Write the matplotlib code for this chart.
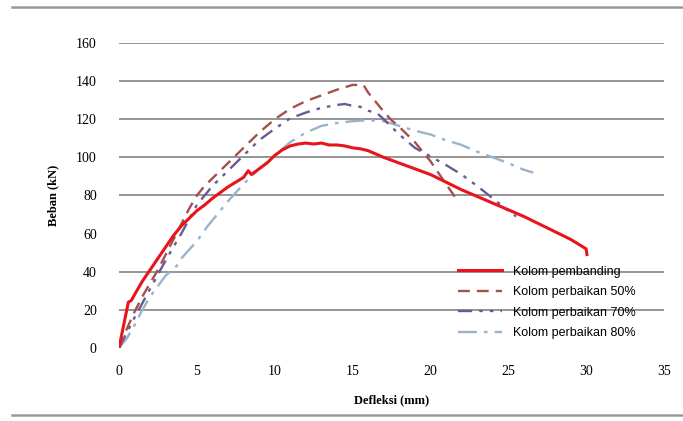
import matplotlib
matplotlib.use('Agg')  # no display
import matplotlib.pyplot as plt
from matplotlib.lines import Line2D

# Load-deflection data
x_ref = [0, 0.2, 0.4, 0.6, 0.8, 1.0, 1.5, 2, 2.5, 3, 3.5, 4, 4.5, 5, 5.5, 6, 6.5, 7, 7.5, 8,
         8.3, 8.5, 9, 9.5, 10, 10.5, 11, 11.5, 12, 12.5, 13, 13.5, 14, 14.5, 15, 15.5, 16,
         17, 18, 19, 20, 21, 22, 23, 24, 25, 26, 27, 28, 29, 30, 30.05]
y_ref = [0, 8, 16, 24, 25, 28, 35, 41, 47, 53, 59, 64, 68, 72, 75, 78.5, 81.5, 84.5, 87, 89.5,
         93, 91, 94, 97, 101, 104, 106, 107, 107.5, 107, 107.5, 106.5, 106.5, 106, 105, 104.5, 103.5,
         100, 97, 94, 91, 87, 83, 79.5, 76, 72.5, 69, 65, 61, 57, 52, 49]

x_50 = [0, 0.5, 1, 1.5, 2, 2.5, 3, 3.5, 4, 4.5, 5, 5.5, 6, 6.5, 7, 7.5, 8, 9, 10, 11, 12, 13,
        14, 15, 15.7, 16, 16.5, 17, 17.5, 18, 18.5, 19, 19.5, 20, 20.5, 21, 21.6]
y_50 = [0, 10, 19, 27, 34, 41, 49, 57, 65, 73, 80, 85, 89, 93, 97, 101, 105, 113, 120, 125.5,
        129.5, 132.5, 135.5, 138, 138, 134, 129, 124, 119.5, 116, 112, 108, 103, 98, 92, 86, 79]

x_70 = [0, 0.5, 1, 2, 3, 4, 5, 6, 7, 8, 9, 10, 11, 12, 13, 14, 14.5, 15, 15.5, 16, 16.6,
        17, 18, 19, 20, 21, 22, 23, 24, 25, 25.5]
y_70 = [0, 8, 16, 31, 46, 60, 75, 85, 93, 101, 109, 115, 120.5, 123.5, 126, 127.5, 128, 127,
        126.5, 124.5, 123, 120, 112, 105, 100.5, 96, 91, 85, 78.5, 72, 69]

x_80 = [0, 0.5, 1, 1.5, 2, 3, 3.7, 4, 5, 5.7, 6.5, 7, 8, 9, 10, 11, 12, 13, 14, 15, 16, 17,
        18, 19, 20, 21, 22, 23, 24, 25, 26, 26.6]
y_80 = [0, 5, 12, 20, 27, 38, 43, 47, 56, 64, 72, 77, 86, 94, 101, 108, 113, 116.5, 118, 119,
        119.5, 119, 116.5, 114, 112, 109, 106.5, 103, 100, 97, 93.5, 92]

labels = ['Kolom pembanding', 'Kolom perbaikan 50%', 'Kolom perbaikan 70%', 'Kolom perbaikan 80%']
x_ticks = [0, 5, 10, 15, 20, 25, 30, 35]
y_ticks = [0, 20, 40, 60, 80, 100, 120, 140, 160]
grid_levels = [20, 40, 80, 100, 120, 140, 160]  # the 60 line is not visible in the reference

fig = plt.figure(figsize=(6.83, 4.21), dpi=100)
ax = fig.add_axes([0.1742, 0.1734, 0.798, 0.7245])

for g in grid_levels:
    ax.axhline(g, color='#8c8c8c', lw=1.3, zorder=0)

ax.plot(x_ref, y_ref, color='#e8141c', lw=2.2, label=labels[0], zorder=5)
ax.plot(x_50, y_50, color='#a5504c', lw=1.7, ls=(0, (5, 3)), label=labels[1], zorder=4)
ax.plot(x_70, y_70, color='#6a5a94', lw=1.7, ls=(0, (6, 3, 1.5, 3, 1.5, 3)), label=labels[2], zorder=3)
ax.plot(x_80, y_80, color='#98b4cc', lw=1.7, ls=(0, (8, 3, 1.5, 3)), label=labels[3], zorder=2)

ax.set_xlim(0, 35)
ax.set_ylim(0, 160)
ax.set_xticks(x_ticks)
ax.set_yticks(y_ticks)
ax.tick_params(length=0, labelsize=10, pad=12)
ax.tick_params(axis='y', pad=16)
for t in ax.get_xticklabels() + ax.get_yticklabels():
    t.set_family('Liberation Serif')
for s in ax.spines.values():
    s.set_visible(False)

ax.set_xlabel('Defleksi (mm)', family='Liberation Serif', fontweight='bold', fontsize=9, labelpad=12)
ax.set_ylabel('Beban (kN)', family='Liberation Serif', fontweight='bold', fontsize=9, labelpad=12)

ax.legend(loc='upper left', bbox_to_anchor=(0.622, 0.27), frameon=False, borderpad=0,
          borderaxespad=0, handlelength=3.5, handletextpad=0.9, labelspacing=0.68,
          prop={'family': 'Liberation Sans', 'size': 9})

# grey rules at top and bottom of the frame
fig.add_artist(Line2D([12 / 683, 1], [1 - 7 / 421, 1 - 7 / 421], color='#9a9a9a', lw=1.8))
fig.add_artist(Line2D([12 / 683, 1], [1 - 415 / 421, 1 - 415 / 421], color='#9a9a9a', lw=1.8))

fig.savefig('out.png', dpi=100)
